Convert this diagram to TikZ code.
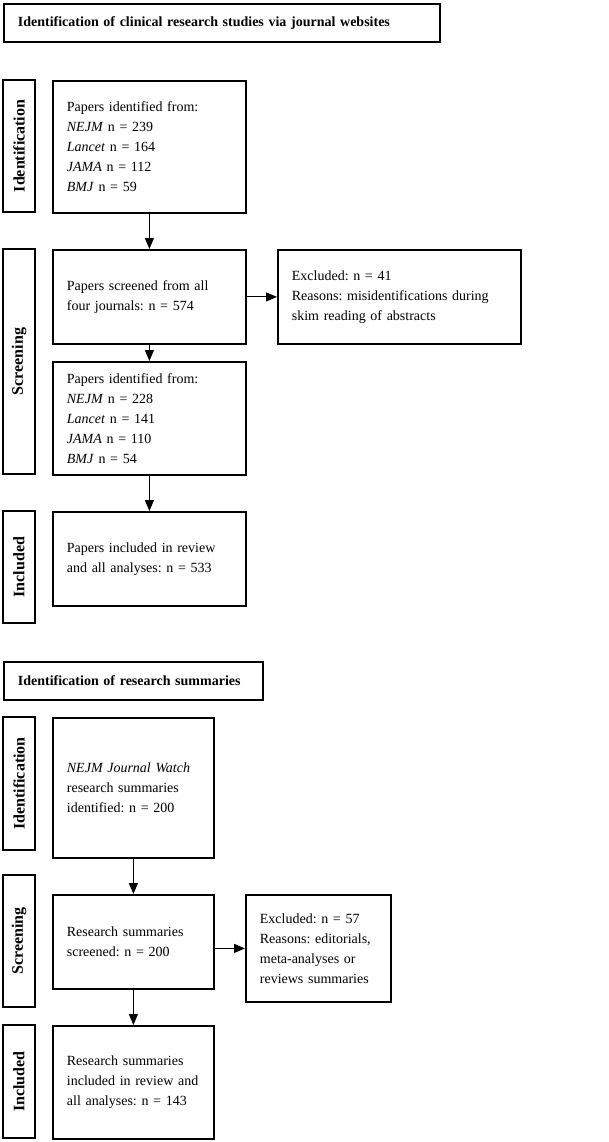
\documentclass[tikz,border=0pt]{standalone}
\usepackage{fontspec}
\setmainfont{Liberation Serif}
\usetikzlibrary{arrows.meta}
\frenchspacing

\begin{document}
\begin{tikzpicture}[x=1pt,y=-1pt]
	\useasboundingbox (0,0) rectangle (608,1142);
	\begin{scope}[every node/.style = {rectangle, draw, line width=1.8pt,
			anchor=north west, inner xsep=14pt, align=left,
			font=\fontsize{14}{20}\selectfont}]
		% studies via journal websites
		\node [text width=408pt, minimum height=38pt, font=\fontsize{14}{20}\selectfont\bfseries] (T1) at (3,3) {Identification of clinical research studies via journal websites};
		\node [text width=165pt, minimum height=132pt] (A) at (52,80) {Papers identified from:\\ \textit{NEJM} n = 239\\ \textit{Lancet} n = 164\\ \textit{JAMA} n = 112\\ \textit{BMJ} n = 59};
		\node [text width=165pt, minimum height=94pt] (B) at (52,249) {Papers screened from all\\ four journals: n = 574};
		\node [text width=215pt, minimum height=94pt] (X1) at (277,249) {Excluded: n = 41\\ Reasons: misidentifications during\\ skim reading of abstracts};
		\node [text width=165pt, minimum height=113pt] (C) at (52,361) {Papers identified from:\\ \textit{NEJM} n = 228\\ \textit{Lancet} n = 141\\ \textit{JAMA} n = 110\\ \textit{BMJ} n = 54};
		\node [text width=165pt, minimum height=94pt] (D) at (52,511) {Papers included in review\\ and all analyses: n = 533};
		% research summaries
		\node [text width=231pt, minimum height=38pt, font=\fontsize{14}{20}\selectfont\bfseries] (T2) at (3,661) {Identification of research summaries};
		\node [text width=133pt, minimum height=140pt] (E) at (52,717) {\textit{NEJM Journal Watch}\\ research summaries\\ identified: n = 200};
		\node [text width=133pt, minimum height=94pt] (F) at (52,894) {Research summaries\\ screened: n = 200};
		\node [text width=117pt, minimum height=107pt] (X2) at (245,894) {Excluded: n = 57\\ Reasons: editorials,\\ meta-analyses or\\ reviews summaries};
		\node [text width=133pt, minimum height=113pt] (G) at (52,1025) {Research summaries\\ included in review and\\ all analyses: n = 143};
	\end{scope}
	\begin{scope}[every node/.style = {rectangle, draw, line width=1.8pt,
			rotate=90, minimum height=32pt, inner sep=0pt,
			font=\fontsize{16}{19}\selectfont\bfseries}]
		\node [minimum width=132pt] (S1) at (19,146) {Identification};
		\node [minimum width=225pt] (S2) at (19,361.5) {Screening};
		\node [minimum width=112pt] (S3) at (19,567) {Included};
		\node [minimum width=133pt] (S4) at (19,783.5) {Identification};
		\node [minimum width=132pt] (S5) at (19,941) {Screening};
		\node [minimum width=113pt] (S6) at (19,1081.5) {Included};
	\end{scope}
	\begin{scope}[>={Triangle[width=9pt,length=11pt]},
			every edge/.style={draw=black, line width=1pt}]
		\path [->] (A) edge (B);
		\path [->] (B) edge (X1);
		\path [->] (B) edge (C);
		\path [->] (C) edge (D);
		\path [->] (E) edge (F);
		\path [->] (F.east |- X2.west) edge (X2.west);
		\path [->] (F) edge (G);
	\end{scope}
\end{tikzpicture}
\end{document}
